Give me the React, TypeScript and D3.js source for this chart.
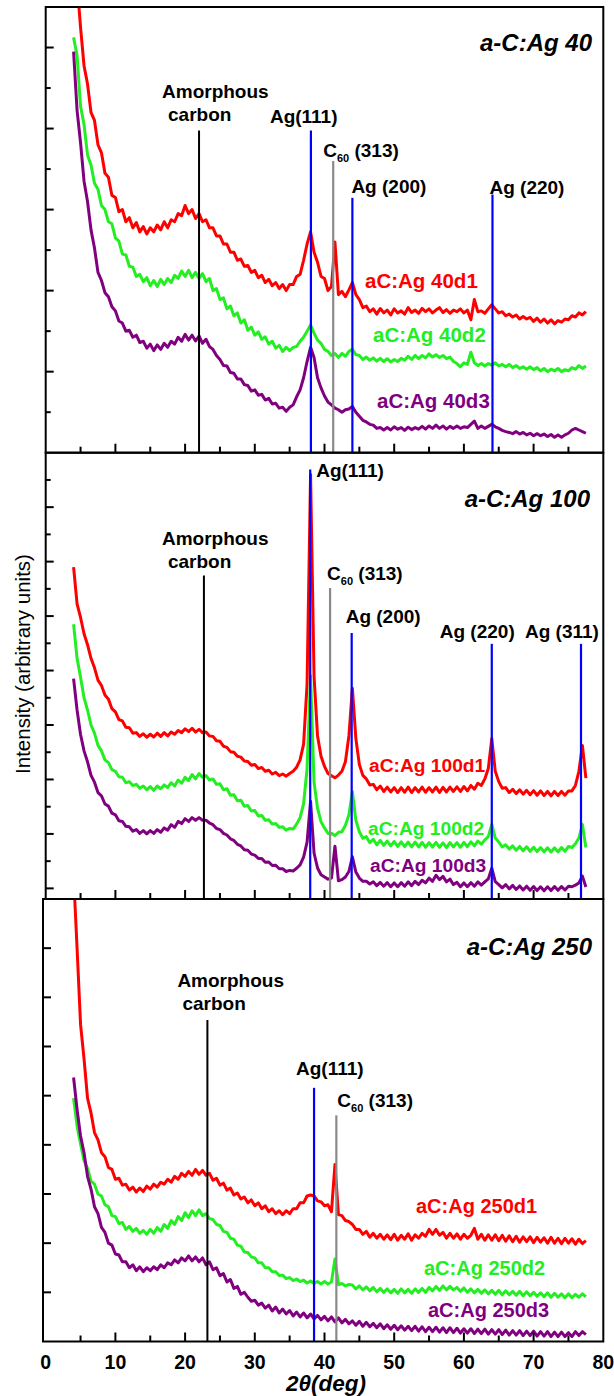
import React from 'react';
import * as d3 from 'd3';

// scan grid shared by every pattern (deg), 4 ... 77.5
const TWO_THETA = d3.range(4, 78, 0.5);

// ---- a-C:Ag 40 (intensity in arbitrary units, one row = 5 deg) ----
const RED_40 = [
  null, 11.6, 10.5, 9.55, 9.1, 8.4, 8.2, 7.6, 7.4, 6.9,
  6.8, 6.35, 6.3, 5.95, 6.0, 5.7, 5.8, 5.55, 5.68, 5.45,
  5.58, 5.4, 5.55, 5.45, 5.62, 5.5, 5.7, 5.55, 5.75, 5.7,
  5.9, 5.85, 6.1, 5.9, 6.0, 5.78, 5.9, 5.7, 5.75, 5.55,
  5.55, 5.35, 5.35, 5.15, 5.15, 4.95, 4.95, 4.75, 4.78, 4.6,
  4.62, 4.45, 4.5, 4.32, 4.38, 4.2, 4.28, 4.12, 4.2, 4.05,
  4.15, 4.0, 4.15, 4.15, 4.35, 4.4, 4.75, 5.15, 5.45, 4.95,
  4.7, 4.35, 4.3, 4.0, 4.1, 5.2, 3.9, 3.98, 3.85, 4.02,
  4.2, 3.9, 3.78, 3.58, 3.62, 3.48, 3.55, 3.42, 3.56, 3.45,
  3.52, 3.4, 3.55, 3.45, 3.5, 3.42, 3.58, 3.46, 3.52, 3.44,
  3.56, 3.48, 3.55, 3.45, 3.52, 3.58, 3.46, 3.53, 3.44, 3.52,
  3.48, 3.55, 3.45, 3.52, 3.28, 3.78, 3.48, 3.5, 3.44, 3.55,
  3.65, 3.55, 3.45, 3.48, 3.38, 3.42, 3.35, 3.4, 3.3, 3.36,
  3.3, 3.34, 3.24, 3.32, 3.22, 3.3, 3.2, 3.28, 3.18, 3.26,
  3.22, 3.3, 3.28, 3.38, 3.35, 3.45, 3.4, 3.48,
];
const GREEN_40 = [
  10.25, 9.8, 8.55, 8.1, 7.35, 7.1, 6.65, 6.5, 6.1, 6.0,
  5.7, 5.65, 5.3, 5.22, 4.9, 4.88, 4.6, 4.58, 4.35, 4.4,
  4.22, 4.32, 4.12, 4.25, 4.1, 4.28, 4.15, 4.3, 4.2, 4.38,
  4.3, 4.48, 4.35, 4.5, 4.32, 4.45, 4.3, 4.42, 4.22, 4.3,
  4.0, 4.05, 3.78, 3.82, 3.55, 3.62, 3.38, 3.45, 3.2, 3.28,
  3.02, 3.1, 2.9, 2.98, 2.8, 2.86, 2.68, 2.75, 2.58, 2.65,
  2.5, 2.6, 2.52, 2.6, 2.62, 2.75, 2.85, 3.0, 3.15, 2.95,
  2.78, 2.7, 2.55, 2.5, 2.4, 2.45, 2.35, 2.45, 2.38, 2.5,
  2.55, 2.42, 2.4, 2.3, 2.36, 2.28, 2.34, 2.26, 2.33, 2.25,
  2.32, 2.24, 2.3, 2.25, 2.33, 2.28, 2.38, 2.3, 2.4, 2.32,
  2.4, 2.34, 2.44, 2.36, 2.42, 2.35, 2.4, 2.32, 2.36, 2.25,
  2.2, 2.12, 2.22, 2.18, 2.48, 2.22, 2.15, 2.2, 2.14, 2.2,
  2.16, 2.22, 2.14, 2.18, 2.12, 2.18, 2.1, 2.15, 2.08, 2.12,
  2.06, 2.12, 2.05, 2.1, 2.02, 2.08, 2.0, 2.06, 2.02, 2.08,
  2.0, 2.05, 2.02, 2.1, 2.06, 2.15, 2.08, 2.14,
];
const PURPLE_40 = [
  9.9, 8.45, 7.65, 6.7, 6.2, 5.5, 5.05, 4.45, 4.25, 3.95,
  3.85, 3.6, 3.5, 3.25, 3.2, 3.0, 3.02, 2.85, 2.9, 2.72,
  2.75, 2.58, 2.68, 2.52, 2.66, 2.55, 2.7, 2.6, 2.75, 2.68,
  2.85, 2.75, 2.92, 2.78, 2.9, 2.76, 2.88, 2.7, 2.8, 2.62,
  2.55, 2.4, 2.3, 2.15, 2.14, 1.98, 1.96, 1.82, 1.82, 1.68,
  1.66, 1.52, 1.55, 1.42, 1.44, 1.3, 1.34, 1.2, 1.22, 1.1,
  1.12, 1.02, 1.12, 1.18, 1.38, 1.55, 1.85, 2.25, 2.6, 2.35,
  1.85, 1.6, 1.4, 1.25, 1.18, 1.1, 1.06, 1.0, 1.06, 1.08,
  1.14, 1.0, 0.9, 0.8, 0.76, 0.7, 0.68, 0.6, 0.62, 0.56,
  0.62, 0.56, 0.64, 0.58, 0.62, 0.55, 0.63, 0.57, 0.62, 0.58,
  0.65, 0.58, 0.66, 0.6, 0.68, 0.6, 0.66, 0.58, 0.65, 0.6,
  0.66, 0.6, 0.64, 0.62, 0.7, 0.78, 0.6, 0.66, 0.6, 0.65,
  0.7, 0.64, 0.6, 0.55, 0.52, 0.5, 0.47, 0.52, 0.46, 0.5,
  0.44, 0.48, 0.42, 0.47, 0.42, 0.46, 0.4, 0.45, 0.38, 0.44,
  0.38, 0.44, 0.48, 0.56, 0.6, 0.56, 0.52, 0.48,
];

// ---- a-C:Ag 100 ----
const RED_100 = [
  11.8, 10.45, 9.95, 9.35, 8.95, 8.45, 8.1, 7.65, 7.45, 7.1,
  6.95, 6.6, 6.48, 6.2, 6.15, 5.92, 5.9, 5.7, 5.72, 5.58,
  5.68, 5.55, 5.66, 5.56, 5.7, 5.58, 5.72, 5.6, 5.74, 5.66,
  5.8, 5.72, 5.86, 5.76, 5.88, 5.74, 5.84, 5.72, 5.74, 5.6,
  5.58, 5.42, 5.4, 5.22, 5.18, 5.02, 5.0, 4.85, 4.82, 4.68,
  4.66, 4.52, 4.55, 4.4, 4.44, 4.3, 4.34, 4.2, 4.26, 4.14,
  4.2, 4.12, 4.22, 4.3, 4.45, 4.72, 5.3, 7.5, 15.2, 7.8,
  5.6, 4.85, 4.48, 4.22, 4.14, 4.06, 4.16, 4.3, 4.65, 5.6,
  7.35, 5.5, 4.55, 4.15, 4.02, 3.8, 3.82, 3.62, 3.76, 3.56,
  3.72, 3.54, 3.7, 3.52, 3.7, 3.53, 3.72, 3.52, 3.7, 3.54,
  3.72, 3.53, 3.7, 3.54, 3.72, 3.52, 3.71, 3.54, 3.72, 3.56,
  3.73, 3.56, 3.74, 3.58, 3.78, 3.64, 3.86, 3.78, 4.02, 4.4,
  5.5, 4.3, 3.92, 3.68, 3.7, 3.52, 3.64, 3.48, 3.62, 3.46,
  3.6, 3.44, 3.59, 3.42, 3.58, 3.41, 3.56, 3.4, 3.56, 3.41,
  3.56, 3.42, 3.58, 3.58, 3.78, 4.3, 5.25, 4.05,
];
const GREEN_100 = [
  9.7, 8.45, 7.75, 7.0, 6.55, 6.0, 5.7, 5.25, 5.05, 4.72,
  4.62, 4.36, 4.3, 4.1, 4.08, 3.88, 3.92, 3.78, 3.82, 3.68,
  3.76, 3.62, 3.74, 3.6, 3.76, 3.66, 3.8, 3.7, 3.88, 3.76,
  3.98, 3.86, 4.08, 3.96, 4.18, 4.02, 4.22, 4.08, 4.14, 3.98,
  4.02, 3.82, 3.84, 3.62, 3.66, 3.42, 3.44, 3.22, 3.24, 3.02,
  3.04, 2.84, 2.86, 2.66, 2.68, 2.5, 2.52, 2.36, 2.38, 2.24,
  2.26, 2.14, 2.2, 2.18, 2.36, 2.6, 3.1, 4.4, 7.8, 3.9,
  2.95, 2.45, 2.22, 2.02, 2.02, 1.94, 2.06, 2.08, 2.32, 2.7,
  3.55, 2.5, 2.08, 1.84, 1.9, 1.68, 1.8, 1.6, 1.76, 1.58,
  1.74, 1.56, 1.72, 1.54, 1.71, 1.53, 1.7, 1.52, 1.7, 1.52,
  1.69, 1.51, 1.68, 1.52, 1.69, 1.51, 1.67, 1.5, 1.68, 1.52,
  1.68, 1.51, 1.69, 1.53, 1.71, 1.56, 1.74, 1.62, 1.78, 1.9,
  2.35, 1.85, 1.7, 1.52, 1.6, 1.44, 1.56, 1.4, 1.54, 1.38,
  1.53, 1.36, 1.51, 1.35, 1.5, 1.34, 1.49, 1.33, 1.49, 1.34,
  1.5, 1.36, 1.54, 1.5, 1.64, 1.85, 2.35, 1.5,
];
const PURPLE_100 = [
  7.7, 6.55, 5.65, 5.05, 4.65, 4.15, 3.9, 3.52, 3.4, 3.1,
  3.02, 2.76, 2.7, 2.48, 2.46, 2.28, 2.26, 2.1, 2.16, 2.02,
  2.12, 2.0, 2.12, 2.02, 2.16, 2.06, 2.22, 2.14, 2.34, 2.24,
  2.46, 2.38, 2.56, 2.46, 2.6, 2.5, 2.6, 2.5, 2.5, 2.4,
  2.34, 2.2, 2.16, 2.02, 1.96, 1.82, 1.76, 1.62, 1.56, 1.42,
  1.4, 1.26, 1.22, 1.1, 1.1, 0.96, 0.97, 0.84, 0.85, 0.72,
  0.72, 0.62, 0.66, 0.64, 0.74, 0.86, 1.15, 1.7, 3.2, 1.3,
  0.75, 0.5, 0.42, 0.34, 0.38, 1.55, 0.28, 0.32, 0.42, 0.62,
  1.16, 0.6, 0.38, 0.26, 0.26, 0.16, 0.24, 0.1, 0.22, 0.08,
  0.21, 0.06, 0.2, 0.06, 0.21, 0.08, 0.24, 0.1, 0.26, 0.14,
  0.3, 0.2, 0.38, 0.26, 0.48, 0.32, 0.44, 0.24, 0.34, 0.14,
  0.22, 0.06, 0.2, 0.06, 0.21, 0.08, 0.24, 0.12, 0.24, 0.35,
  0.74, 0.25, 0.14, 0.02, 0.14, -0.02, 0.11, -0.04, 0.09, -0.06,
  0.08, -0.07, 0.07, -0.08, 0.06, -0.09, 0.06, -0.08, 0.07, -0.07,
  0.07, -0.06, 0.08, 0.06, 0.12, 0.2, 0.45, 0.05,
];

// ---- a-C:Ag 250 ----
const RED_250 = [
  9.5, 8.0, 6.45, 5.75, 4.95, 4.65, 4.25, 4.1, 3.84, 3.76,
  3.54, 3.5, 3.3, 3.32, 3.18, 3.2, 3.08, 3.14, 3.04, 3.12,
  3.05, 3.16, 3.1, 3.2, 3.14, 3.24, 3.2, 3.3, 3.24, 3.36,
  3.3, 3.42, 3.36, 3.46, 3.38, 3.5, 3.4, 3.48, 3.38, 3.42,
  3.28, 3.32, 3.18, 3.22, 3.08, 3.12, 2.98, 3.02, 2.9, 2.94,
  2.82, 2.88, 2.76, 2.82, 2.7, 2.76, 2.64, 2.7, 2.6, 2.66,
  2.58, 2.66, 2.6, 2.7, 2.7, 2.82, 2.82, 2.96, 2.98, 2.96,
  2.86, 2.84, 2.76, 2.78, 2.64, 3.6, 2.58, 2.56, 2.46, 2.44,
  2.38, 2.28, 2.28, 2.18, 2.24, 2.12, 2.2, 2.1, 2.18, 2.08,
  2.17, 2.07, 2.18, 2.06, 2.16, 2.08, 2.19, 2.06, 2.17, 2.1,
  2.2, 2.14, 2.28, 2.18, 2.28, 2.16, 2.22, 2.1, 2.2, 2.1,
  2.19, 2.08, 2.18, 2.1, 2.16, 2.3, 2.08, 2.18, 2.06, 2.17,
  2.06, 2.17, 2.05, 2.16, 2.04, 2.15, 2.03, 2.14, 2.02, 2.13,
  2.03, 2.13, 2.01, 2.12, 2.02, 2.11, 2.0, 2.12, 2.0, 2.1,
  1.99, 2.1, 2.0, 2.09, 1.98, 2.08, 1.99, 2.05,
];
const GREEN_250 = [
  4.95, 4.38, 4.02, 3.68, 3.52, 3.26, 3.2, 3.0, 2.96, 2.78,
  2.74, 2.56, 2.54, 2.4, 2.42, 2.28, 2.34, 2.24, 2.3, 2.2,
  2.26, 2.18, 2.28, 2.2, 2.32, 2.24, 2.38, 2.3, 2.46, 2.38,
  2.54, 2.46, 2.62, 2.52, 2.66, 2.56, 2.68, 2.56, 2.6, 2.5,
  2.48, 2.38, 2.36, 2.24, 2.22, 2.1, 2.08, 1.96, 1.94, 1.82,
  1.81, 1.72, 1.7, 1.6, 1.6, 1.5, 1.5, 1.42, 1.42, 1.34,
  1.35, 1.28, 1.3, 1.24, 1.27, 1.22, 1.25, 1.19, 1.23, 1.18,
  1.22, 1.17, 1.22, 1.17, 1.21, 1.68, 1.16, 1.18, 1.13, 1.16,
  1.15, 1.07, 1.13, 1.05, 1.11, 1.03, 1.1, 1.01, 1.08, 1.0,
  1.07, 0.99, 1.06, 0.98, 1.07, 0.99, 1.06, 0.98, 1.07, 1.0,
  1.08, 1.0, 1.1, 1.03, 1.12, 1.04, 1.13, 1.05, 1.12, 1.05,
  1.1, 1.02, 1.09, 1.0, 1.07, 0.99, 1.06, 0.98, 1.05, 0.97,
  1.04, 0.96, 1.04, 0.95, 1.03, 0.95, 1.02, 0.94, 1.02, 0.93,
  1.01, 0.93, 1.0, 0.92, 0.99, 0.91, 0.99, 0.9, 0.98, 0.9,
  0.97, 0.89, 0.97, 0.89, 0.96, 0.9, 0.97, 0.91,
];
const PURPLE_250 = [
  5.37, 4.72, 4.18, 3.84, 3.36, 3.1, 2.74, 2.6, 2.32, 2.22,
  2.0, 1.96, 1.78, 1.76, 1.62, 1.62, 1.5, 1.56, 1.44, 1.52,
  1.42, 1.5, 1.44, 1.52, 1.46, 1.56, 1.5, 1.6, 1.56, 1.66,
  1.6, 1.7, 1.64, 1.74, 1.64, 1.72, 1.62, 1.7, 1.56, 1.62,
  1.46, 1.5, 1.34, 1.38, 1.21, 1.26, 1.08, 1.12, 0.96, 1.0,
  0.9, 0.82, 0.84, 0.74, 0.78, 0.68, 0.74, 0.62, 0.7, 0.58,
  0.66, 0.56, 0.63, 0.52, 0.6, 0.5, 0.58, 0.48, 0.56, 0.46,
  0.53, 0.44, 0.51, 0.42, 0.5, 0.4, 0.48, 0.38, 0.45, 0.36,
  0.42, 0.33, 0.41, 0.31, 0.39, 0.3, 0.37, 0.28, 0.36, 0.26,
  0.34, 0.25, 0.33, 0.24, 0.32, 0.23, 0.31, 0.22, 0.31, 0.21,
  0.3, 0.2, 0.29, 0.2, 0.29, 0.19, 0.28, 0.18, 0.28, 0.18,
  0.27, 0.17, 0.26, 0.17, 0.26, 0.16, 0.25, 0.16, 0.25, 0.15,
  0.24, 0.15, 0.24, 0.14, 0.23, 0.13, 0.22, 0.13, 0.22, 0.12,
  0.21, 0.12, 0.21, 0.11, 0.2, 0.11, 0.2, 0.1, 0.19, 0.1,
  0.19, 0.1, 0.18, 0.1, 0.2, 0.12, 0.2, 0.14,
];

// reflection markers: kind, 2theta, top of the line (intensity units)
const MARK_KIND_40 = ['amorph', 'ag111', 'c60', 'ag200', 'ag220'];
const MARK_POS_40 = [22.0, 38.05, 41.25, 44.0, 64.1];
const MARK_TOP_40 = [7.95, 7.95, 7.2, 6.29, 6.37];

const MARK_KIND_100 = ['amorph', 'ag111', 'c60', 'ag200', 'ag220', 'ag311'];
const MARK_POS_100 = [22.7, 37.95, 40.8, 43.9, 64.0, 76.8];
const MARK_TOP_100 = [11.49, 15.38, 11.03, 9.38, 8.98, 8.98];

const MARK_KIND_250 = ['amorph', 'ag111', 'c60'];
const MARK_POS_250 = [23.2, 38.5, 41.7];
const MARK_TOP_250 = [6.54, 5.16, 4.6];

const X_TICK_LABELS = [0, 10, 20, 30, 40, 50, 60, 70, 80];

const FONT = "'Liberation Sans', Arial, Helvetica, sans-serif";
const COLORS = ['#ff0000', '#22ee22', '#800080'];
const MARK_COLOR: Record<string, string> = {
  amorph: '#000000', c60: '#8a8a8a', ag111: '#0000ff', ag200: '#0000ff', ag220: '#0000ff', ag311: '#0000ff',
};

const x = d3.scaleLinear().domain([0, 80]).range([45.7, 603.3]);

const panels = [
  {
    id: 'p40', title: 'a-C:Ag 40', titleAt: [592, 51], left: 45.7, top: 7, bottom: 452.7,
    yDomain: [0, 11], yTicks: d3.range(1, 11), majorEvery: 2,
    series: [RED_40, GREEN_40, PURPLE_40],
    names: ['aC:Ag 40d1', 'aC:Ag 40d2', 'aC:Ag 40d3'],
    nameAt: [[365, 288], [373, 342], [377, 408]], nameSize: 20.5,
    kinds: MARK_KIND_40, pos: MARK_POS_40, tops: MARK_TOP_40,
    // label offsets from the top of each marker line
    labelOff: [[-37, -33, -31, -10], [-41, -8], [-10, -4], [-1, -5], [-3, -1]],
  },
  {
    id: 'p100', title: 'a-C:Ag 100', titleAt: [590, 507], left: 45.7, top: 452.7, bottom: 899,
    yDomain: [-0.39, 16], yTicks: d3.range(0, 16), majorEvery: 2,
    series: [RED_100, GREEN_100, PURPLE_100],
    names: ['aC:Ag 100d1', 'aC:Ag 100d2', 'aC:Ag 100d3'],
    nameAt: [[369, 772], [368, 835], [370, 872]], nameSize: 19.2,
    kinds: MARK_KIND_100, pos: MARK_POS_100, tops: MARK_TOP_100,
    labelOff: [[-42, -31, -36, -8], [6, 7], [-3, -8], [-6, -10], [-52, -6], [-56, -6]],
  },
  {
    id: 'p250', title: 'a-C:Ag 250', titleAt: [592, 955], left: 43, top: 899, bottom: 1341.5,
    yDomain: [0, 9], yTicks: d3.range(1, 9), majorEvery: 1,
    series: [RED_250, GREEN_250, PURPLE_250],
    names: ['aC:Ag 250d1', 'aC:Ag 250d2', 'aC:Ag 250d3'],
    nameAt: [[416, 1213], [424, 1275], [428, 1317]], nameSize: 20,
    kinds: MARK_KIND_250, pos: MARK_POS_250, tops: MARK_TOP_250,
    labelOff: [[-30, -33, -25, -10], [-18, -13], [1, -8]],
  },
];

function MarkLabel({ kind, lx, ly, off }: { kind: string; lx: number; ly: number; off: number[] }) {
  const common = { fontFamily: FONT, fontWeight: 700, fontSize: 19, fill: '#000' };
  if (kind === 'amorph') {
    return (
      <g>
        <text {...common} x={lx + off[0]} y={ly + off[1]}>Amorphous</text>
        <text {...common} x={lx + off[2]} y={ly + off[3]}>carbon</text>
      </g>
    );
  }
  if (kind === 'c60') {
    return (
      <text {...common} x={lx + off[0]} y={ly + off[1]}>
        C<tspan fontSize={11} dy={5}>60</tspan>
        <tspan dy={-5}> (313)</tspan>
      </text>
    );
  }
  const txt = kind === 'ag111' ? 'Ag(111)' : kind === 'ag200' ? 'Ag (200)' : kind === 'ag220' ? 'Ag (220)' : 'Ag (311)';
  return <text {...common} x={lx + off[0]} y={ly + off[1]}>{txt}</text>;
}

function Panel({ p, showLabels }: { p: any; showLabels: boolean }) {
  const y = d3.scaleLinear().domain(p.yDomain).range([p.bottom, p.top]);
  const line = d3
    .line<number | null>()
    .defined((d) => d != null)
    .x((d, i) => x(TWO_THETA[i]))
    .y((d) => y(d as number));
  const right = x(80);
  const xTicks = d3.range(5, 80, 5);
  return (
    <g>
      <defs>
        <clipPath id={'clip-' + p.id}>
          <rect x={p.left} y={p.top} width={right - p.left} height={p.bottom - p.top} />
        </clipPath>
      </defs>
      <g clipPath={'url(#clip-' + p.id + ')'}>
        {p.series.map((s: (number | null)[], k: number) => (
          <path key={k} d={line(s) || ''} fill="none" stroke={COLORS[k]} strokeWidth={3} strokeLinejoin="round" />
        ))}
      </g>
      {p.pos.map((v: number, k: number) => (
        <line key={'m' + k} x1={x(v)} x2={x(v)} y1={y(p.tops[k])} y2={p.bottom}
          stroke={MARK_COLOR[p.kinds[k]]} strokeWidth={p.kinds[k] === 'amorph' ? 2 : 2.2} />
      ))}
      {p.pos.map((v: number, k: number) => (
        <MarkLabel key={'l' + k} kind={p.kinds[k]} lx={x(v)} ly={y(p.tops[k])} off={p.labelOff[k]} />
      ))}
      {p.names.map((n: string, k: number) => (
        <text key={'n' + k} x={p.nameAt[k][0]} y={p.nameAt[k][1]} fill={COLORS[k]}
          fontFamily={FONT} fontSize={p.nameSize} fontWeight={700}>{n}</text>
      ))}
      <text x={p.titleAt[0]} y={p.titleAt[1]} textAnchor="end" fontFamily={FONT} fontSize={24}
        fontWeight={700} fontStyle="italic">{p.title}</text>
      {p.yTicks.map((t: number) => (
        <line key={'yt' + t} x1={p.left} x2={p.left + (t % p.majorEvery === 0 ? 8 : 5)} y1={y(t)} y2={y(t)}
          stroke="#000" strokeWidth={2} />
      ))}
      {xTicks.map((t: number) => (
        <line key={'xt' + t} x1={x(t)} x2={x(t)} y1={p.bottom} y2={p.bottom - (t % 10 === 0 ? 9 : 6)}
          stroke="#000" strokeWidth={2} />
      ))}
      <rect x={p.left} y={p.top} width={right - p.left} height={p.bottom - p.top} fill="none" stroke="#000" strokeWidth={2} />
      {showLabels &&
        X_TICK_LABELS.map((t) => (
          <text key={'xl' + t} x={x(t)} y={1369} textAnchor="middle" fontFamily={FONT} fontSize={19.5} fontWeight={700}>
            {t}
          </text>
        ))}
    </g>
  );
}

export default function App() {
  return (
    <svg width={614} height={1396} style={{ position: 'absolute', left: 0, top: 0, background: '#fff' }}>
      <rect width={614} height={1396} fill="#fff" />
      {panels.map((p, i) => (
        <Panel key={p.id} p={p} showLabels={i === 2} />
      ))}
      <text transform="translate(30,664) rotate(-90)" textAnchor="middle" fontFamily={FONT} fontSize={20.5}>
        Intensity (arbitrary units)
      </text>
      <text x={326} y={1391} textAnchor="middle" fontFamily={FONT} fontSize={22.5} fontWeight={700} fontStyle="italic">
        2θ(deg)
      </text>
    </svg>
  );
}
